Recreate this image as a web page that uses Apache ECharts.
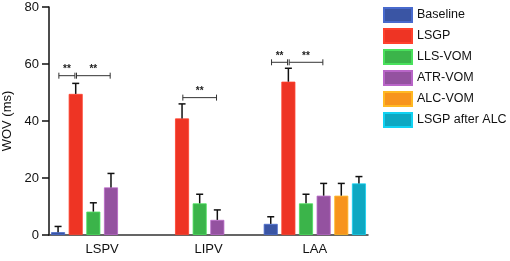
<!DOCTYPE html>
<html>
  <head>
    <meta charset="utf-8" />
    <title>WOV</title>
    <script src="https://cdn.jsdelivr.net/npm/echarts@6.0.0/dist/echarts.min.js"></script>
    <style>
      html, body { margin: 0; padding: 0; background: #fff; }
    </style>
  </head>
  <body>
    <div id="main" style="width: 510px;height:261px;"></div>
    <script>
        // 数据
        var categories = ['LSPV', 'LIPV', 'LAA'];
        var seriesNames = ['Baseline', 'LSGP', 'LLS-VOM', 'ATR-VOM', 'ALC-VOM', 'LSGP after ALC'];
        var colors = ['#3a55a4', '#ee3424', '#3bb44a', '#9452a0', '#f7941d', '#0ea8c2'];

        var baseline = [1, null, 3.9];
        var lsgp = [49.5, 40.9, 53.8];
        var llsVom = [8.2, 11.1, 11.1];
        var atrVom = [16.7, 5.3, 13.8];
        var alcVom = [null, null, 13.8];
        var lsgpAfterAlc = [null, null, 18.1];

        // 误差 (SD)
        var baselineSd = [2, null, 2.5];
        var lsgpSd = [3.7, 5.1, 4.7];
        var llsVomSd = [3.1, 3.2, 3.2];
        var atrVomSd = [4.9, 3.5, 4.3];
        var alcVomSd = [null, null, 4.3];
        var lsgpAfterAlcSd = [null, null, 2.4];

        // 显著性标记
        var sigCat = [0, 0, 1, 2, 2];
        var sigFrom = [0, 1, 1, 0, 1];
        var sigTo = [1, 3, 3, 1, 3];
        var sigY = [55.9, 55.9, 48.2, 60.6, 60.6];
        var sigText = ['**', '**', '**', '**', '**'];

        var means = [baseline, lsgp, llsVom, atrVom, alcVom, lsgpAfterAlc];
        var sds = [baselineSd, lsgpSd, llsVomSd, atrVomSd, alcVomSd, lsgpAfterAlcSd];

        var barW = 14;
        var gapPct = 0.26;
        var step = barW * (1 + gapPct);
        var font = "'Liberation Sans', Arial, sans-serif";

        var myChart = echarts.init(document.getElementById('main'));

        var errData = [];
        means.forEach(function (arr, s) {
          arr.forEach(function (v, c) {
            if (v != null) errData.push([c, s, v, v + sds[s][c]]);
          });
        });
        var sigData = sigCat.map(function (c, i) {
          return [c, sigFrom[i], sigTo[i], sigY[i], i];
        });

        var series = seriesNames.map(function (name, i) {
          return {
            name: name,
            type: 'bar',
            data: means[i],
            barWidth: barW,
            barGap: (gapPct * 100) + '%',
            itemStyle: { color: colors[i], borderColor: echarts.color.lift(colors[i], -0.25), borderWidth: 0.8 },
            z: 2
          };
        });

        series.push({
          type: 'custom',
          name: 'err',
          data: errData,
          z: 3,
          renderItem: function (params, api) {
            var c = api.value(0), s = api.value(1);
            var p0 = api.coord([c, api.value(2)]);
            var p1 = api.coord([c, api.value(3)]);
            var x = p0[0] + (s - 2.5) * step;
            return {
              type: 'group',
              children: [
                { type: 'line', shape: { x1: x, y1: p0[1], x2: x, y2: p1[1] }, style: { stroke: '#111', lineWidth: 1.5 } },
                { type: 'line', shape: { x1: x - 3.5, y1: p1[1], x2: x + 3.5, y2: p1[1] }, style: { stroke: '#111', lineWidth: 1.5 } }
              ]
            };
          }
        });

        series.push({
          type: 'custom',
          name: 'sig',
          data: sigData,
          z: 4,
          renderItem: function (params, api) {
            var c = api.value(0), f = api.value(1), t = api.value(2);
            var p = api.coord([c, api.value(3)]);
            var x1 = p[0] + (f - 2.5) * step + 0.8;
            var x2 = p[0] + (t - 2.5) * step - 0.8;
            var y = p[1];
            var st = { stroke: '#333', lineWidth: 1 };
            return {
              type: 'group',
              children: [
                { type: 'line', shape: { x1: x1, y1: y, x2: x2, y2: y }, style: st },
                { type: 'line', shape: { x1: x1, y1: y - 3, x2: x1, y2: y + 3 }, style: st },
                { type: 'line', shape: { x1: x2, y1: y - 3, x2: x2, y2: y + 3 }, style: st },
                { type: 'text', style: { text: sigText[api.value(4)], x: (x1 + x2) / 2, y: y - 1, align: 'center', verticalAlign: 'bottom', fill: '#222', font: 'bold 10px ' + font } }
              ]
            };
          }
        });

        var option = {
          animation: false,
          textStyle: { fontFamily: font },
          grid: { left: 49, top: 7, right: 142, bottom: 26, containLabel: false, outerBoundsMode: 'none' },
          legend: {
            data: seriesNames,
            orient: 'vertical',
            left: 383,
            top: 7,
            padding: 0,
            itemWidth: 28,
            itemHeight: 14,
            itemGap: 5,
            icon: 'rect',
            textStyle: { fontSize: 12.5, lineHeight: 14, color: '#111', fontFamily: font }
          },
          xAxis: {
            type: 'category',
            data: categories,
            axisLine: { lineStyle: { color: '#333', width: 1.5 } },
            axisTick: { alignWithLabel: true, length: 5, lineStyle: { color: '#333', width: 1.5 } },
            axisLabel: { color: '#111', fontSize: 13, margin: 8 }
          },
          yAxis: {
            type: 'value',
            min: 0,
            max: 80,
            interval: 20,
            name: 'WOV (ms)',
            nameLocation: 'middle',
            nameGap: 30,
            nameTextStyle: { color: '#111', fontSize: 13 },
            splitLine: { show: false },
            axisLine: { show: true, lineStyle: { color: '#111', width: 1.5 } },
            axisTick: { show: true, length: 7, lineStyle: { color: '#111', width: 1.5 } },
            axisLabel: { color: '#111', fontSize: 13, margin: 10 }
          },
          series: series
        };

        myChart.setOption(option);
    </script>
  </body>
</html>
